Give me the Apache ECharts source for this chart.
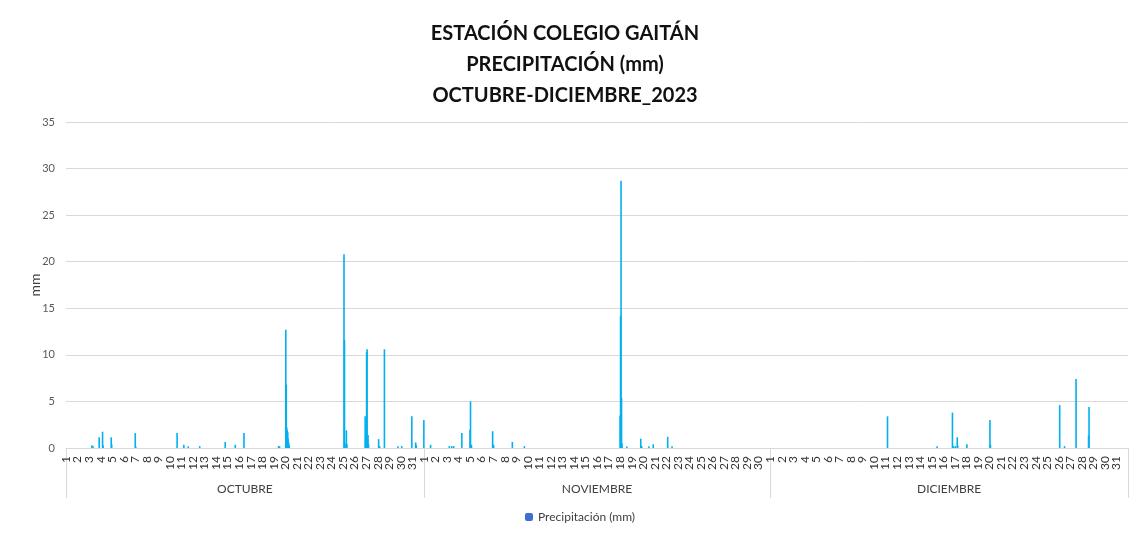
<!DOCTYPE html>
<html>
<head>
<meta charset="utf-8">
<title>Precipitación Colegio Gaitán</title>
<script src="https://cdn.jsdelivr.net/npm/echarts@6/dist/echarts.min.js"></script>
<style>
  html, body { margin: 0; padding: 0; background: #fff; }
  #chart { width: 1130px; height: 533px; }
</style>
</head>
<body>
<div id="chart"></div>
<script>
// meses y numero de dias
const months = ['OCTUBRE', 'NOVIEMBRE', 'DICIEMBRE']
const monthDays = [31, 30, 31]

// lecturas horarias con lluvia: [dia, hora, mm]
const octubre = [
  [3, 6, 0.3], [3, 8, 0.2], [3, 21, 1.15], [4, 4, 1.75], [4, 5, 0.3], [4, 22, 1.15], [4, 23, 0.4],
  [7, 0, 1.6], [7, 1, 0.15], [10, 15, 1.6], [11, 5, 0.36], [11, 14, 0.2], [12, 14, 0.2],
  [14, 19, 0.65], [15, 16, 0.35], [16, 10, 1.6], [19, 10, 0.2], [19, 12, 0.2],
  [20, 1, 12.7], [20, 2, 6.8], [20, 3, 2.2], [20, 4, 1.9], [20, 5, 1.7], [20, 6, 1.0], [20, 7, 0.6], [20, 8, 0.3],
  [25, 2, 20.8], [25, 3, 11.6], [25, 6, 0.5], [25, 7, 1.9], [25, 8, 0.4],
  [26, 22, 3.4], [26, 23, 1.0], [27, 1, 10.3], [27, 2, 10.6], [27, 4, 1.4], [27, 5, 0.4],
  [28, 2, 0.95], [28, 4, 0.2], [28, 14, 10.6], [29, 18, 0.2], [30, 2, 0.2], [30, 23, 3.4],
  [31, 7, 0.6], [31, 8, 0.3]
]
const noviembre = [
  [1, 0, 3.0], [1, 14, 0.35], [3, 5, 0.2], [3, 10, 0.2], [3, 14, 0.2], [4, 7, 1.6],
  [5, 0, 1.95], [5, 1, 5.0], [5, 3, 0.35], [6, 23, 1.8], [7, 1, 0.35], [8, 16, 0.65], [9, 17, 0.2],
  [18, 0, 3.5], [18, 1, 14.2], [18, 2, 28.7], [18, 3, 5.4], [18, 4, 0.5], [18, 14, 0.15],
  [19, 19, 1.0], [19, 21, 0.2], [20, 12, 0.2], [20, 21, 0.4], [22, 3, 1.2], [22, 12, 0.2]
]
const diciembre = [
  [11, 4, 3.4], [15, 11, 0.2], [16, 19, 3.8], [16, 21, 0.2], [17, 1, 0.2], [17, 5, 1.15], [17, 6, 0.25],
  [18, 1, 0.4], [20, 1, 3.0], [20, 2, 0.35], [26, 2, 4.6], [26, 12, 0.2], [27, 12, 7.4],
  [28, 14, 1.35], [28, 15, 4.4]
]

const totalDays = monthDays.reduce((a, b) => a + b, 0)
const offsets = [0, monthDays[0], monthDays[0] + monthDays[1]]

function toPoints(rows, m) {
  return rows.map(r => [offsets[m] + r[0] - 1 + r[1] / 24, r[2]])
}
const seriesData = [].concat(toPoints(octubre, 0), toPoints(noviembre, 1), toPoints(diciembre, 2))

// etiquetas de dia (una por dia + cierre vacio)
const dayLabels = []
monthDays.forEach(n => { for (let d = 1; d <= n; d++) dayLabels.push(String(d)) })
dayLabels.push('')

const font = 'Lato, "Open Sans", sans-serif'
const chart = echarts.init(document.getElementById('chart'))

chart.setOption({
  animation: false,
  textStyle: { fontFamily: font },
  title: {
    text: 'ESTACIÓN COLEGIO GAITÁN\nPRECIPITACIÓN (mm)\nOCTUBRE-DICIEMBRE_2023',
    left: 'center',
    top: 13,
    textStyle: { fontSize: 20, fontWeight: 'bold', color: '#111', lineHeight: 31, fontFamily: font }
  },
  legend: {
    bottom: 5,
    left: 520,
    itemWidth: 8,
    itemHeight: 8,
    itemGap: 4,
    textStyle: { fontSize: 12, color: '#404040' },
    data: [{ name: 'Precipitación (mm)', itemStyle: { color: '#3d6fd0' } }]
  },
  grid: {
    left: 66,
    right: 2,
    top: 122,
    bottom: 85
  },
  xAxis: [
    {
      // eje de valores para las barras (horas en fraccion de dia)
      type: 'value',
      min: 0,
      max: totalDays,
      interval: 1,
      axisLine: { show: true, lineStyle: { color: '#d9d9d9' } },
      axisTick: { show: false },
      axisLabel: { show: false },
      splitLine: { show: false }
    },
    {
      // etiquetas de dias
      type: 'category',
      data: dayLabels,
      boundaryGap: false,
      position: 'bottom',
      axisLine: { show: false },
      axisTick: { show: false },
      splitLine: { show: false },
      axisLabel: {
        interval: 0,
        rotate: 90,
        margin: 8,
        fontSize: 12,
        color: '#333'
      }
    },
    {
      // meses
      type: 'value',
      min: 0,
      max: totalDays,
      position: 'bottom',
      offset: 50,
      axisLine: { show: false },
      splitLine: { show: false },
      axisTick: {
        show: true,
        inside: true,
        length: 50,
        customValues: offsets.concat([totalDays]),
        lineStyle: { color: '#d9d9d9' }
      },
      axisLabel: {
        inside: true,
        margin: 3,
        fontSize: 12,
        color: '#404040',
        customValues: offsets.map((o, i) => o + monthDays[i] / 2),
        formatter: v => {
          const i = offsets.findIndex((o, k) => Math.abs(o + monthDays[k] / 2 - v) < 0.01)
          return i >= 0 ? months[i] : ''
        }
      }
    }
  ],
  yAxis: {
    type: 'value',
    min: 0,
    max: 35,
    interval: 5,
    name: 'mm',
    nameLocation: 'middle',
    nameGap: 24,
    nameMoveOverlap: false,
    nameTextStyle: { fontSize: 14, color: '#404040' },
    axisLine: { show: false },
    axisTick: { show: false },
    axisLabel: { fontSize: 11, color: '#595959', margin: 11 },
    splitLine: { lineStyle: { color: '#d9d9d9' } }
  },
  series: [{
    name: 'Precipitación (mm)',
    type: 'bar',
    xAxisIndex: 0,
    barWidth: 1.6,
    itemStyle: { color: '#00b0f0' },
    data: seriesData
  }]
})
</script>
</body>
</html>
